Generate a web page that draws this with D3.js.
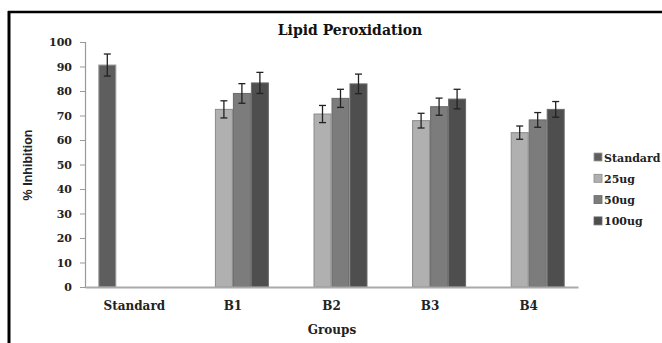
<!DOCTYPE html>
<html>
<head>
<meta charset="utf-8">
<script src="https://cdn.jsdelivr.net/npm/d3@7"></script>
<style>
  html, body { margin: 0; padding: 0; background: #fff; }
  svg { display: block; }
</style>
</head>
<body>
<svg id="chart" width="662" height="343"></svg>
<script>
const groups = ["Standard", "B1", "B2", "B3", "B4"];
const seriesNames = ["Standard", "25ug", "50ug", "100ug"];
const standardVals = [90.6, null, null, null, null];
const ug25Vals = [null, 72.5, 70.6, 67.9, 63.0];
const ug50Vals = [null, 79.0, 77.0, 73.6, 68.2];
const ug100Vals = [null, 83.3, 82.9, 76.7, 72.5];
const standardErr = [4.5, null, null, null, null];
const ug25Err = [null, 3.5, 3.5, 3.0, 2.7];
const ug50Err = [null, 4.0, 3.7, 3.5, 3.0];
const ug100Err = [null, 4.3, 4.0, 4.0, 3.2];
const yTicks = [0, 10, 20, 30, 40, 50, 60, 70, 80, 90, 100];

const seriesVals = [standardVals, ug25Vals, ug50Vals, ug100Vals];
const seriesErr = [standardErr, ug25Err, ug50Err, ug100Err];
const colors = ["#5e5e5e", "#b0b0b0", "#7c7c7c", "#4e4e4e"];
const strokes = ["#9a9a9a", "#8a8a8a", "#6a6a6a", "#6a6a6a"];

const svg = d3.select("#chart");
const font = "'DejaVu Serif', serif";

// frame
svg.append("line").attr("x1", 8).attr("x2", 662).attr("y1", 12).attr("y2", 12)
  .attr("stroke", "#000").attr("stroke-width", 2.5);
svg.append("line").attr("x1", 9).attr("x2", 9).attr("y1", 11).attr("y2", 343)
  .attr("stroke", "#000").attr("stroke-width", 3);

const x = d3.scaleBand().domain(groups).range([85, 578]).paddingInner(0.27).paddingOuter(0.135);
const x1 = d3.scaleBand().domain(seriesNames).range([0, x.bandwidth()]);
const y = d3.scaleLinear().domain([0, 100]).range([287, 42]);

// y axis
const yAxis = svg.append("g").attr("transform", "translate(85,0)")
  .call(d3.axisLeft(y).tickValues(yTicks).tickSize(5).tickPadding(8));
yAxis.select(".domain").attr("stroke", "#999").attr("stroke-width", 1.2);
yAxis.selectAll(".tick line").attr("stroke", "#999");
yAxis.selectAll("text").attr("font-family", font).attr("font-weight", "bold")
  .attr("font-size", "11px").attr("fill", "#222");

// bars
const data = [];
seriesNames.forEach((s, si) => {
  groups.forEach((g, gi) => {
    const v = seriesVals[si][gi];
    if (v != null) data.push({ s, si, g, v, e: seriesErr[si][gi] });
  });
});

svg.append("g").selectAll("rect").data(data).join("rect")
  .attr("x", d => x(d.g) + x1(d.s) + 0.5)
  .attr("width", x1.bandwidth() - 1)
  .attr("y", d => y(d.v))
  .attr("height", d => y(0) - y(d.v))
  .attr("fill", d => colors[d.si])
  .attr("stroke", d => strokes[d.si])
  .attr("stroke-width", 1);

// x axis
const xAxis = svg.append("g").attr("transform", "translate(0,287)")
  .call(d3.axisBottom(x).tickSize(0).tickPadding(14));
xAxis.select(".domain").attr("stroke", "#aaa").attr("stroke-width", 2);
xAxis.selectAll("text").attr("font-family", font).attr("font-weight", "bold")
  .attr("font-size", "12px").attr("fill", "#222");

// error bars
const eb = svg.append("g").attr("stroke", "#222").attr("stroke-width", 1.3);
data.forEach(d => {
  const cx = x(d.g) + x1(d.s) + x1.bandwidth() / 2;
  eb.append("line").attr("x1", cx).attr("x2", cx).attr("y1", y(d.v + d.e)).attr("y2", y(d.v - d.e));
  eb.append("line").attr("x1", cx - 3.5).attr("x2", cx + 3.5).attr("y1", y(d.v + d.e)).attr("y2", y(d.v + d.e));
  eb.append("line").attr("x1", cx - 3.5).attr("x2", cx + 3.5).attr("y1", y(d.v - d.e)).attr("y2", y(d.v - d.e));
});

// title
svg.append("text").attr("x", 350).attr("y", 35).attr("text-anchor", "middle")
  .attr("font-family", font).attr("font-weight", "bold").attr("font-size", "14px")
  .attr("fill", "#111").text("Lipid Peroxidation");

// axis titles
svg.append("text").attr("x", 332).attr("y", 334).attr("text-anchor", "middle")
  .attr("font-family", font).attr("font-weight", "bold").attr("font-size", "12px")
  .attr("fill", "#222").text("Groups");
svg.append("text").attr("transform", "translate(32,165) rotate(-90)").attr("text-anchor", "middle")
  .attr("font-family", "'Liberation Sans Narrow', 'Liberation Sans', sans-serif").attr("font-weight", "bold")
  .attr("font-size", "12.5px").attr("fill", "#222").text("% Inhibition");

// legend
const legend = svg.append("g");
seriesNames.forEach((s, i) => {
  const ly = 157 + i * 21.3;
  legend.append("rect").attr("x", 594).attr("y", ly - 4).attr("width", 8).attr("height", 8)
    .attr("fill", colors[i]).attr("stroke", strokes[i]).attr("stroke-width", 0.8);
  legend.append("text").attr("x", 604).attr("y", ly + 4.5)
    .attr("font-family", font).attr("font-weight", "bold").attr("font-size", "11px")
    .attr("fill", "#222").text(s);
});
</script>
</body>
</html>
